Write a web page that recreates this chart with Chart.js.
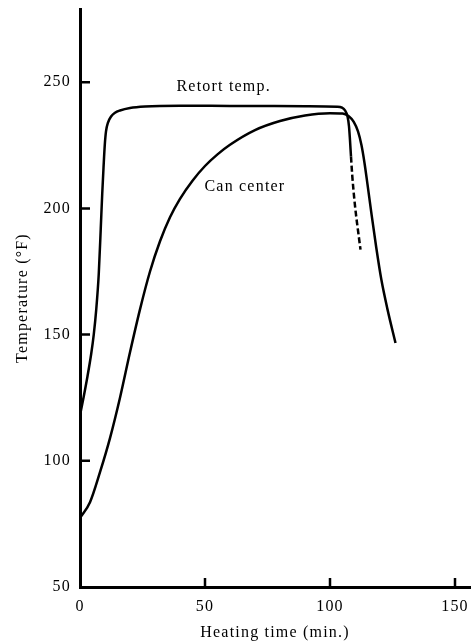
<!DOCTYPE html>
<html lang="en">
<head>
<meta charset="UTF-8">
<title>Retort and can center temperature</title>
<script src="https://cdn.jsdelivr.net/npm/chart.js"></script>
<style>
  body { margin: 0; background: #fff; }
</style>
</head>
<body>
<canvas id="heatChart" width="472" height="642"></canvas>
<script>
// heating time (min.) and temperature (°F)
const retortTime = [0, 1.5, 3, 4.5, 5.5, 6.5, 7.5, 8.3, 8.9, 9.4, 9.9, 10.4, 11.2, 12.5, 14, 16, 20, 26, 40, 60, 90, 103, 104.8, 106, 107, 107.6, 108, 108.4, 108.9, 109.6, 110.4, 111.3, 112.2];
const retortTemp = [118, 125.5, 133.5, 142.5, 150, 160, 174, 192, 206, 216, 225, 230.5, 234, 236.5, 237.9, 238.8, 239.8, 240.4, 240.7, 240.6, 240.5, 240.3, 239.9, 238.8, 236.5, 232.5, 227, 220.5, 213, 205, 197.5, 190.5, 183.7];
const retortDashFrom = 108.4; // retort curve is dashed after this time

const canTime = [0, 4, 8, 12, 16, 20, 24, 28, 32, 36, 40, 45, 50, 55, 60, 70, 80, 90, 100, 105, 107.5, 109.5, 111.2, 112.6, 113.8, 115, 116.5, 118.5, 120.5, 123, 126.2];
const canTemp = [77.3, 83.6, 95.5, 109, 125, 143, 160, 175, 187, 196.5, 203.8, 211, 216.8, 221.4, 225.2, 231, 234.6, 236.8, 237.7, 237.6, 236.5, 234.3, 230.5, 225, 218, 209.5, 198.5, 184.5, 172, 160, 146.7];

const xTicks = [0, 50, 100, 150];
const yTicks = [50, 100, 150, 200, 250];

const curveNames = ['Retort temp.', 'Can center'];
const nameTime = [38.6, 49.8];
const nameTemp = [248, 208.7];

const serif = 'Liberation Serif, Times New Roman, serif';

function points(xs, ys) {
    return xs.map((v, i) => ({ x: v, y: ys[i] }));
}

// old typeset look: slightly spaced letters
const spacing = {
    id: 'spacing',
    beforeUpdate(chart) { chart.ctx.letterSpacing = '1.2px'; },
    beforeDraw(chart) { chart.ctx.letterSpacing = '1.2px'; }
};

// tick marks point into the plot, plus the curve names
const extras = {
    id: 'extras',
    afterDraw(chart) {
        const { ctx, chartArea, scales: { x, y } } = chart;
        ctx.save();
        ctx.strokeStyle = '#000';
        ctx.lineWidth = 2.5;
        ctx.beginPath();
        xTicks.filter(v => v > 0).forEach(v => {
            const px = x.getPixelForValue(v);
            ctx.moveTo(px, chartArea.bottom);
            ctx.lineTo(px, chartArea.bottom - 9);
        });
        yTicks.filter(v => v > 50).forEach(v => {
            const py = y.getPixelForValue(v);
            ctx.moveTo(chartArea.left, py);
            ctx.lineTo(chartArea.left + 10, py);
        });
        ctx.stroke();

        ctx.fillStyle = '#000';
        ctx.font = '16px ' + serif;
        ctx.textAlign = 'left';
        ctx.textBaseline = 'middle';
        curveNames.forEach((t, i) => {
            ctx.fillText(t, x.getPixelForValue(nameTime[i]), y.getPixelForValue(nameTemp[i]));
        });
        ctx.restore();
    }
};

const ctx = document.getElementById('heatChart').getContext('2d');
new Chart(ctx, {
    type: 'line',
    data: {
        datasets: [{
            label: curveNames[0],
            data: points(retortTime, retortTemp),
            borderColor: '#000',
            borderWidth: 2.5,
            pointRadius: 0,
            cubicInterpolationMode: 'monotone',
            segment: {
                borderDash: c => c.p0.parsed.x >= retortDashFrom ? [6, 3] : undefined
            }
        }, {
            label: curveNames[1],
            data: points(canTime, canTemp),
            borderColor: '#000',
            borderWidth: 2.5,
            pointRadius: 0,
            cubicInterpolationMode: 'monotone'
        }]
    },
    options: {
        responsive: false,
        animation: false,
        layout: { padding: { top: 9, right: 2, left: 0, bottom: 0 } },
        plugins: {
            legend: { display: false },
            tooltip: { enabled: false }
        },
        scales: {
            x: {
                type: 'linear',
                min: 0,
                max: 156,
                afterBuildTicks: s => { s.ticks = xTicks.map(v => ({ value: v })); },
                afterFit: s => { s.height = 55; s.paddingLeft = 0; s.paddingRight = 0; },
                grid: { drawOnChartArea: false, drawTicks: false },
                border: { color: '#000', width: 3 },
                ticks: { color: '#000', padding: 10, maxRotation: 0, font: { family: serif, size: 16 } },
                title: {
                    display: true,
                    text: 'Heating time (min.)',
                    color: '#000',
                    font: { family: serif, size: 16 },
                    padding: { top: 0, bottom: 0 }
                }
            },
            y: {
                type: 'linear',
                min: 50,
                max: 279,
                afterBuildTicks: s => { s.ticks = yTicks.map(v => ({ value: v })); },
                afterFit: s => { s.width = 80; s.paddingTop = 0; s.paddingBottom = 0; },
                grid: { drawOnChartArea: false, drawTicks: false },
                border: { color: '#000', width: 3 },
                ticks: { color: '#000', padding: 9, font: { family: serif, size: 16 } },
                title: {
                    display: true,
                    text: 'Temperature (°F)',
                    color: '#000',
                    font: { family: serif, size: 16 },
                    padding: { top: 13, bottom: 0 }
                }
            }
        }
    },
    plugins: [spacing, extras]
});
</script>
</body>
</html>
